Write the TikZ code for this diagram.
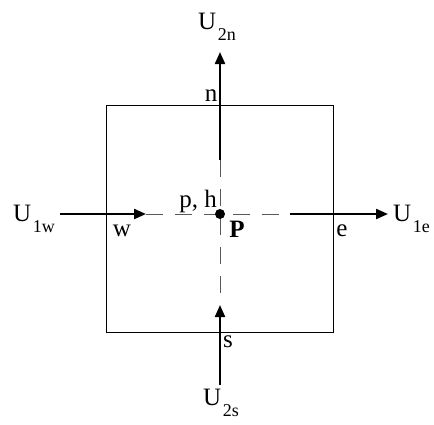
\documentclass[tikz,border=0pt]{standalone}
\usepackage{fontspec}
\setmainfont{Liberation Serif}
\usetikzlibrary{arrows.meta}
\newcommand{\subsc}[1]{\hspace{1.5pt}\raisebox{-11pt}{\fontsize{18}{18}\selectfont #1}}
\begin{document}
\begin{tikzpicture}[x=1pt,y=-1pt,
  flux/.style={line width=2.2pt,-{Triangle[length=12pt,width=10pt]}},
  axis/.style={line width=0.9pt,gray!70!black,dash pattern=on 17pt off 12pt},
  lbl/.style={font=\fontsize{25}{25}\selectfont,inner sep=0pt,anchor=base}]
\useasboundingbox (0,0) rectangle (434,424);
\node[draw,line width=0.8pt,minimum width=227pt,minimum height=227pt,inner sep=0pt] (cv) at (219.5,218.5) {};
\coordinate (P) at (220,214);
\coordinate (nin) at (220,160);
\coordinate (nout) at (220,52);
\coordinate (win) at (60,214);
\coordinate (wout) at (146,214);
\coordinate (ein) at (290,214);
\coordinate (eout) at (388,214);
\coordinate (sin) at (220,385);
\coordinate (sout) at (220,305);
\draw[axis] (wout) -- (ein);
\draw[axis] (nin) -- (sout);
\draw[flux] (nin) -- (nout);
\draw[flux] (win) -- (wout);
\draw[flux] (ein) -- (eout);
\draw[flux] (sin) -- (sout);
\fill (P) circle (5pt);
\node[lbl,anchor=base west] (U2n) at (198,29) {U\subsc{2n}};
\node[lbl,anchor=base west] (U1w) at (13,221) {U\subsc{1w}};
\node[lbl,anchor=base west] (U1e) at (393,221) {U\subsc{1e}};
\node[lbl,anchor=base west] (U2s) at (203,405) {U\subsc{2s}};
\node[lbl] (n) at (211,101) {n};
\node[lbl] (w) at (122,236) {w};
\node[lbl] (e) at (342,236) {e};
\node[lbl] (s) at (228,347) {s};
\node[lbl] (ph) at (198,207) {p, h};
\node[lbl,font=\fontsize{25}{25}\selectfont\bfseries] (Pl) at (237,237) {P};
\end{tikzpicture}
\end{document}
